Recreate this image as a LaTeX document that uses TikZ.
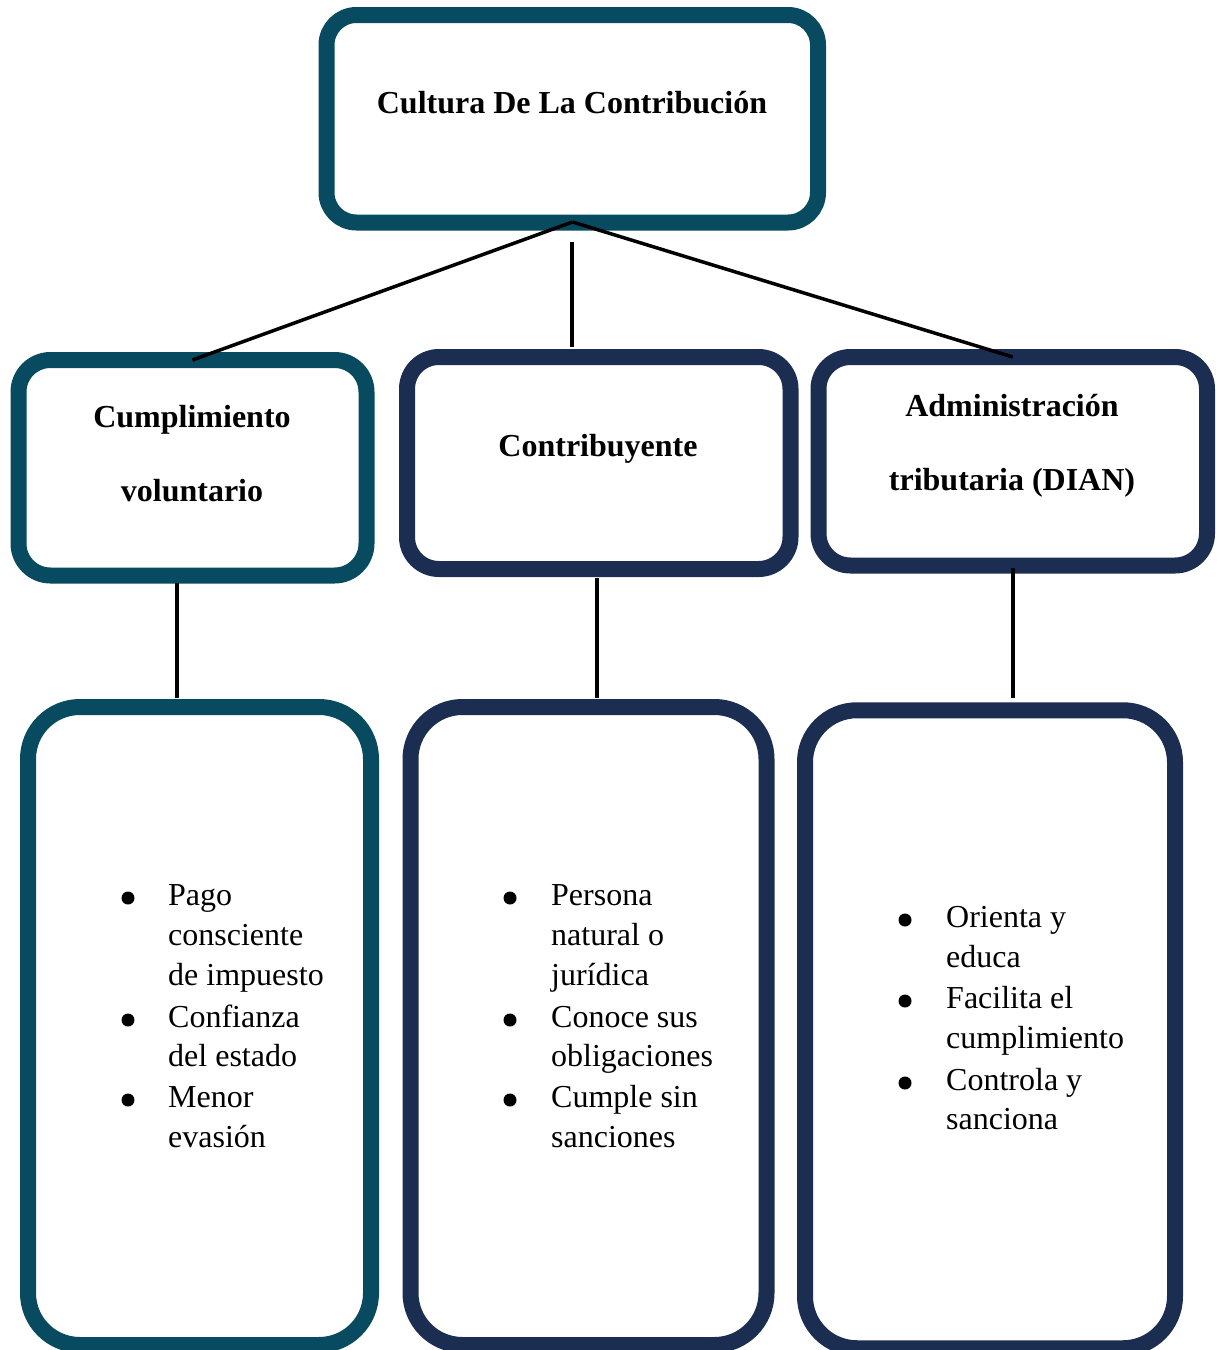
\documentclass[tikz,border=0pt]{standalone}
\usepackage{fontspec}
\setmainfont{Liberation Serif}
\definecolor{teal}{HTML}{084A5F}
\definecolor{navy}{HTML}{1B2D51}
\begin{document}
\begin{tikzpicture}[x=1pt,y=-1pt,
  box/.style={draw, line width=16pt, rounded corners=#1, outer sep=0pt, inner sep=0pt, fill=white},
  box/.default=32pt,
  hd/.style={anchor=base, inner sep=0pt, font=\fontsize{32}{40}\selectfont\bfseries},
  ln/.style={anchor=base west, inner sep=0pt, font=\fontsize{32}{40}\selectfont},
  bul/.style={circle, fill=black, inner sep=0pt, minimum size=13pt},
  conn/.style={draw=black, line width=3.5pt}]
\useasboundingbox (0,0) rectangle (1222,1350);
\clip (0,0) rectangle (1222,1350);

% boxes
\node[box=30pt, draw=teal, minimum width=491.5pt, minimum height=207.5pt] (top) at (572.25,118.75) {};
\node[box, draw=teal, minimum width=348pt, minimum height=215.5pt] (A) at (192.5,467.75) {};
\node[box, draw=navy, minimum width=383.5pt, minimum height=212pt] (B) at (598.75,463) {};
\node[box, draw=navy, minimum width=388.5pt, minimum height=208.5pt] (C) at (1012.75,461.25) {};
\node[box=52pt, draw=teal, minimum width=343pt, minimum height=638pt] (A2) at (199.5,1026) {};
\node[box=52pt, draw=navy, minimum width=356pt, minimum height=638pt] (B2) at (588.5,1026) {};
\node[box=52pt, draw=navy, minimum width=370pt, minimum height=638pt] (C2) at (990,1029.25) {};

% connectors
\coordinate (apex) at (572.5,222);
\coordinate (m1) at (572,242);
\coordinate (m2) at (572,347);
\draw[conn] (apex) -- (A.north);
\draw[conn] (apex) -- (C.north);
\draw[conn] (m1) -- (m2);
\coordinate (a1) at (177,583);
\coordinate (a2) at (177,698);
\coordinate (b1) at (597,578);
\coordinate (b2) at (597,698);
\coordinate (c1) at (1013,568);
\coordinate (c2) at (1013,698);
\draw[conn] (a1) -- (a2);
\draw[conn] (b1) -- (b2);
\draw[conn] (c1) -- (c2);

% headers
\node[hd] (t0) at (572,113) {Cultura De La Contribución};
\node[hd] (tA1) at (192,427) {Cumplimiento};
\node[hd] (tA2) at (192,501) {voluntario};
\node[hd] (tB1) at (598,456) {Contribuyente};
\node[hd] (tC1) at (1012,416) {Administración};
\node[hd] (tC2) at (1012,490) {tributaria (DIAN)};

% list A
\node[bul] (bA1) at (128,898) {};
\node[bul] (bA2) at (128,1020) {};
\node[bul] (bA3) at (128,1100) {};
\node[ln] (lA1) at (168,905) {Pago};
\node[ln] (lA2) at (168,945) {consciente};
\node[ln] (lA3) at (168,985) {de impuesto};
\node[ln] (lA4) at (168,1027) {Confianza};
\node[ln] (lA5) at (168,1066) {del estado};
\node[ln] (lA6) at (168,1107) {Menor};
\node[ln] (lA7) at (168,1147) {evasión};

% list B
\node[bul] (bB1) at (510,898) {};
\node[bul] (bB2) at (510,1020) {};
\node[bul] (bB3) at (510,1100) {};
\node[ln] (lB1) at (551,905) {Persona};
\node[ln] (lB2) at (551,945) {natural o};
\node[ln] (lB3) at (551,985) {jurídica};
\node[ln] (lB4) at (551,1027) {Conoce sus};
\node[ln] (lB5) at (551,1066) {obligaciones};
\node[ln] (lB6) at (551,1107) {Cumple sin};
\node[ln] (lB7) at (551,1147) {sanciones};

% list C
\node[bul] (bC1) at (905,920) {};
\node[bul] (bC2) at (905,1001) {};
\node[bul] (bC3) at (905,1083) {};
\node[ln] (lC1) at (946,927) {Orienta y};
\node[ln] (lC2) at (946,967) {educa};
\node[ln] (lC3) at (946,1008) {Facilita el};
\node[ln] (lC4) at (946,1048) {cumplimiento};
\node[ln] (lC5) at (946,1090) {Controla y};
\node[ln] (lC6) at (946,1129) {sanciona};
\end{tikzpicture}
\end{document}
